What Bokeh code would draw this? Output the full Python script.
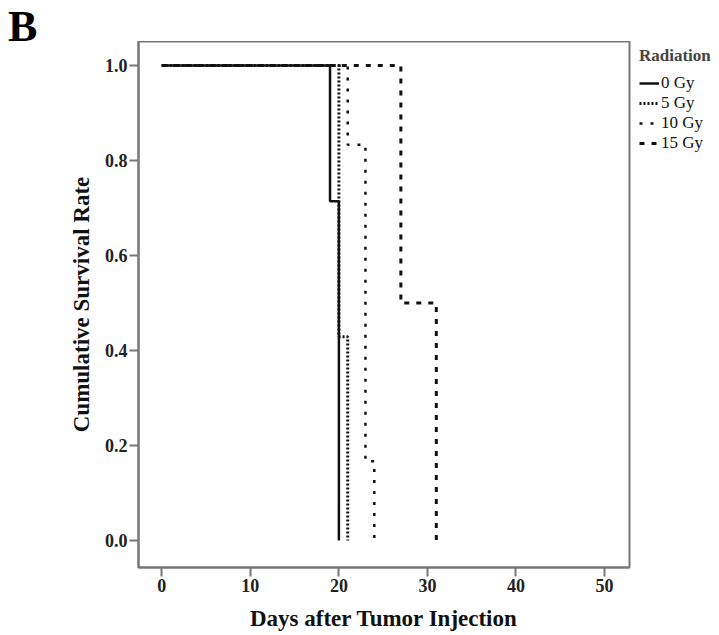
from bokeh.plotting import figure
from bokeh.models import Range1d, FixedTicker, NumeralTickFormatter, Legend, LegendItem, Div
from bokeh.layouts import column, row
from bokeh.embed import file_html
from bokeh.resources import INLINE

# Kaplan-Meier step data (event times in days, survival after each event)
groups = ["0 Gy", "5 Gy", "10 Gy", "15 Gy"]
days_0gy = [0, 19, 20]
surv_0gy = [1.0, 0.714, 0.0]
days_5gy = [0, 20, 21]
surv_5gy = [1.0, 0.429, 0.0]
days_10gy = [0, 21, 23, 24]
surv_10gy = [1.0, 0.833, 0.167, 0.0]
days_15gy = [0, 27, 31]
surv_15gy = [1.0, 0.5, 0.0]

x_ticks = [0, 10, 20, 30, 40, 50]
y_ticks = [0.0, 0.2, 0.4, 0.6, 0.8, 1.0]

series = [
    (groups[0], days_0gy, surv_0gy, "solid", 2.5),
    (groups[1], days_5gy, surv_5gy, "2 2", 3),
    (groups[2], days_10gy, surv_10gy, "3 8", 2.5),
    (groups[3], days_15gy, surv_15gy, "5 7", 3),
]

SERIF = "Liberation Serif"
GRAY = "#777777"
LINE = "#111111"

# main chart
p = figure(width=634, height=594, output_backend="svg", toolbar_location=None,
           x_range=Range1d(-2.63, 52.82), y_range=Range1d(-0.0568, 1.0505),
           min_border_left=138, min_border_right=5, min_border_top=0, min_border_bottom=68)
p.xgrid.visible = False
p.ygrid.visible = False
p.outline_line_color = GRAY
p.outline_line_width = 2
p.background_fill_color = "white"
p.border_fill_color = "white"

for ax in (p.xaxis[0], p.yaxis[0]):
    ax.axis_line_color = GRAY
    ax.axis_line_width = 2
    ax.major_tick_line_color = GRAY
    ax.major_tick_line_width = 2
    ax.major_tick_in = 0
    ax.major_tick_out = 9
    ax.minor_tick_line_color = None
    ax.major_label_text_font = SERIF
    ax.major_label_text_font_style = "bold"
    ax.major_label_text_font_size = "18px"
    ax.major_label_text_color = "#222222"
    ax.axis_label_text_font = SERIF
    ax.axis_label_text_font_style = "bold"
    ax.axis_label_text_font_size = "23px"
    ax.axis_label_text_color = "#111111"

p.xaxis.ticker = FixedTicker(ticks=x_ticks)
p.yaxis.ticker = FixedTicker(ticks=y_ticks)
p.yaxis.formatter = NumeralTickFormatter(format="0.0")
p.xaxis.axis_label = "Days after Tumor Injection"
p.yaxis.axis_label = "Cumulative Survival Rate"
p.xaxis.major_label_standoff = 2
p.yaxis.major_label_standoff = 2
p.xaxis.axis_label_standoff = 11
p.yaxis.axis_label_standoff = 8

for name, d, s, dash, w in series:
    p.step(x=d, y=s, mode="after", line_color=LINE, line_width=w, line_dash=dash)

# legend panel (same series, drawn out of view so only the legend shows)
lg = figure(width=85, height=594, output_backend="svg", toolbar_location=None,
            x_axis_type=None, y_axis_type=None,
            x_range=Range1d(1000, 1001), y_range=Range1d(0, 1),
            min_border=0, min_border_left=0, min_border_right=0,
            min_border_top=0, min_border_bottom=0)
lg.outline_line_color = None
lg.xgrid.visible = False
lg.ygrid.visible = False
lg.background_fill_color = "white"
lg.border_fill_color = "white"

items = []
for name, d, s, dash, w in series:
    r = lg.step(x=d, y=s, mode="after", line_color=LINE, line_width=w, line_dash=dash)
    items.append(LegendItem(label=name, renderers=[r]))

legend = Legend(items=items, location="top_left", title="Radiation",
                title_text_font=SERIF, title_text_font_style="bold", title_text_font_size="17px",
                title_standoff=7,
                label_text_font=SERIF, label_text_font_size="17px", label_text_color="#111111",
                label_standoff=2, label_height=14, glyph_width=20, glyph_height=14, spacing=0,
                padding=0, margin=5, border_line_alpha=0, background_fill_alpha=0)
lg.add_layout(legend, "center")

panel_tag = Div(text="B", width=719, height=41, margin=0,
                styles={"font-family": SERIF, "font-weight": "bold", "font-size": "44px",
                        "line-height": "53px", "padding-left": "8px", "color": "#000000"})

layout = column(panel_tag, row(p, lg, spacing=0), spacing=0)

open("out.html", "w").write(file_html(layout, INLINE))
